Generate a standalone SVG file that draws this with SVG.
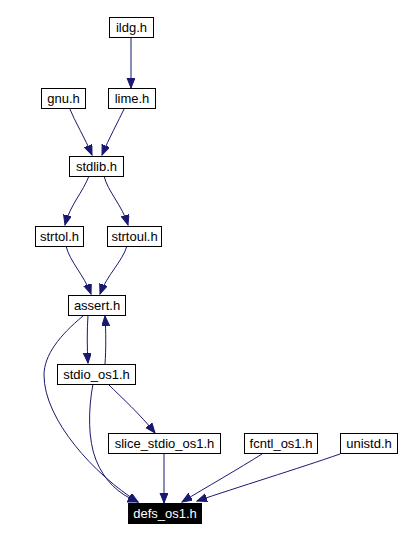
<svg xmlns="http://www.w3.org/2000/svg" width="401" height="540" viewBox="0 0 401 540">
<style>
.n rect{fill:#fff;stroke:#000;stroke-width:1}
.n text{font-family:"Liberation Sans",Arial,sans-serif;font-size:13px;text-anchor:middle;fill:#000}
.cur rect{fill:#000}
.cur text{fill:#fff}
.e path{fill:none;stroke:#191970;stroke-width:1;marker-end:url(#ah)}
</style>
<defs>
<marker id="ah" markerUnits="userSpaceOnUse" markerWidth="11" markerHeight="9" refX="10" refY="4" orient="auto">
<path d="M0,0 L10,4 L0,8 z" fill="#191970" stroke="#191970" stroke-width="1"/>
</marker>
</defs>
<rect width="401" height="540" fill="#fff"/>
<g class="e" id="edges">
<path d="M131,37 L131,88"/>
<path d="M69,107 C75,122 85,138 92,155"/>
<path d="M125,107 C118,122 109,138 102,155"/>
<path d="M89,176 C83,192 70,205 65,225"/>
<path d="M104,176 C108,192 122,205 128,225"/>
<path d="M66,246 C70,262 84,275 91,294"/>
<path d="M127,246 C122,262 107,275 100,294"/>
<path d="M88,315 C87,330 87,348 88,363"/>
<path d="M105,364 C106,350 106,332 105,316"/>
<path d="M83,316 C60,335 44,355 44,375 C44,420 95,475 138,502"/>
<path d="M93,384 C88,410 88,440 96,460 C104,480 118,494 138,502"/>
<path d="M108,384 C122,398 140,414 155,433"/>
<path d="M164,453 L164,503"/>
<path d="M262,454 C240,468 205,488 182,502"/>
<path d="M340,454 C300,468 235,488 197,501"/>
</g>
<g class="n" id="ildg"><rect x="109.5" y="17.5" width="44" height="20"/><text x="131.5" y="32">ildg.h</text></g>
<g class="n" id="gnu"><rect x="41.5" y="88.5" width="44" height="20"/><text x="63.5" y="103">gnu.h</text></g>
<g class="n" id="lime"><rect x="108.5" y="88.5" width="47" height="20"/><text x="132" y="103">lime.h</text></g>
<g class="n" id="stdlib"><rect x="69.5" y="156.5" width="54" height="20"/><text x="96.5" y="171">stdlib.h</text></g>
<g class="n" id="strtol"><rect x="35.5" y="226.5" width="48" height="20"/><text x="59.5" y="241">strtol.h</text></g>
<g class="n" id="strtoul"><rect x="107.5" y="226.5" width="54" height="20"/><text x="134.5" y="241">strtoul.h</text></g>
<g class="n" id="assert"><rect x="68.5" y="295.5" width="57" height="20"/><text x="97" y="310">assert.h</text></g>
<g class="n" id="stdio_os1"><rect x="57.5" y="364.5" width="78" height="20"/><text x="96.5" y="379">stdio_os1.h</text></g>
<g class="n" id="slice_stdio_os1"><rect x="108.5" y="433.5" width="112" height="20"/><text x="164.5" y="448">slice_stdio_os1.h</text></g>
<g class="n" id="fcntl_os1"><rect x="244.5" y="433.5" width="73" height="20"/><text x="281" y="448">fcntl_os1.h</text></g>
<g class="n" id="unistd"><rect x="340.5" y="433.5" width="57" height="20"/><text x="369" y="448">unistd.h</text></g>
<g class="n cur" id="defs_os1"><rect x="128.5" y="503.5" width="73" height="20"/><text x="165" y="518">defs_os1.h</text></g>
</svg>
